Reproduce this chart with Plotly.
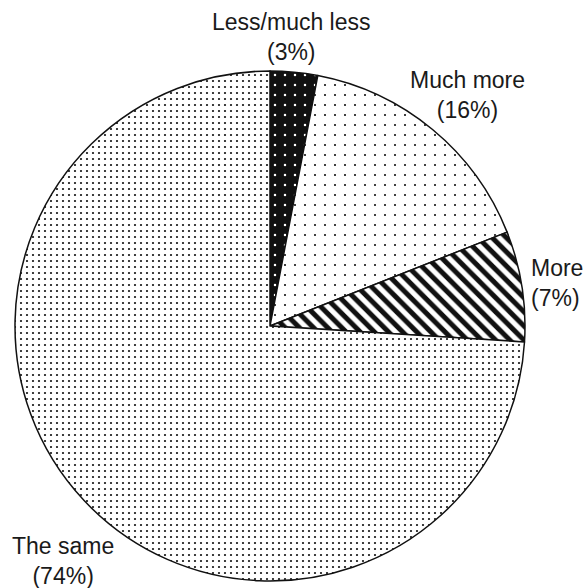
import plotly.graph_objects as go

labels = ["Less/much less", "Much more", "More", "The same"]
values = [3, 16, 7, 74]
pct_text = ["(3%)", "(16%)", "(7%)", "(74%)"]

# slice fills (pattern styling)
bg_colors = ["#111111", "white", "white", "white"]
fg_colors = ["white", "#111111", "#111111", "#111111"]
shapes = [".", ".", "\\", "."]
sizes = [10, 10, 10, 6]
solidity = [0.05, 0.035, 0.5, 0.11]

W, H = 583, 588


def px(x):
    return x / W


def py(y):
    return 1 - y / H


fig = go.Figure()
fig.add_trace(go.Pie(
    labels=labels, values=values, sort=False, direction="clockwise", rotation=0,
    textinfo="none", hoverinfo="label+percent", showlegend=False,
    domain=dict(x=[px(15), px(525)], y=[py(581), py(71)]),
    marker=dict(
        colors=bg_colors,
        line=dict(color="#111111", width=1.5),
        pattern=dict(shape=shapes, size=sizes, solidity=solidity,
                     bgcolor=bg_colors, fgcolor=fg_colors, fgopacity=1, fillmode="overlay"),
    ),
))

# label positions (pixel centres of each two-line label)
label_pos = [(291, 37, "center"), (467, 95, "center"), (529, 283, "left"), (63, 561, "center")]
for (lx, ly, anchor), name, pct in zip(label_pos, labels, pct_text):
    fig.add_annotation(
        x=px(lx), y=py(ly), xref="paper", yref="paper",
        text=f"{name}<br>{pct}", showarrow=False, xanchor=anchor, yanchor="middle",
        align="left" if anchor == "left" else "center",
        font=dict(family="Liberation Sans, Arial, sans-serif", size=23, color="#1a1a1a"),
    )

fig.update_layout(
    width=W, height=H, margin=dict(l=0, r=0, t=0, b=0),
    paper_bgcolor="white", plot_bgcolor="white",
)

# drop the default body margin so the figure fills the window exactly
fig.write_html("out.html", config={"displayModeBar": False},
               post_script="document.body.style.margin='0';")
